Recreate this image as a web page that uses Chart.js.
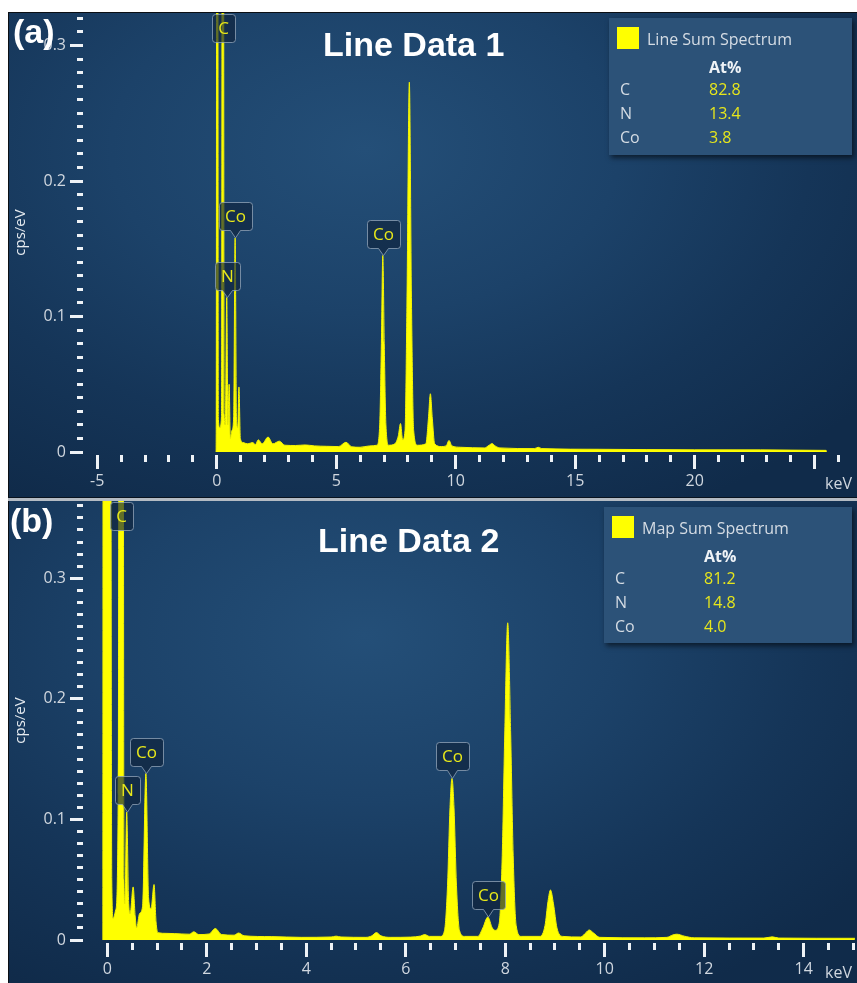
<!DOCTYPE html>
<html>
<head>
<meta charset="utf-8">
<title>EDS sum spectra</title>
<script src="https://cdn.jsdelivr.net/npm/chart.js@4.4.1/dist/chart.umd.min.js"></script>
<style>
  html, body { margin: 0; padding: 0; background: #ffffff; }
  body { position: relative; width: 857px; height: 983px; overflow: hidden; }
  .panel {
    position: absolute; left: 8px; width: 848px;
    border-left: 1px solid #0b0f14;
    background: radial-gradient(ellipse 75% 85% at 42% 28%, #244f78 0%, #1c4269 40%, #153558 70%, #102b4a 100%);
    overflow: hidden;
    font-family: "Open Sans", sans-serif;
  }
  #panelA { top: 12px; height: 485px; border-top: 1px solid #0b0f14; }
  #panelB { top: 501px; height: 482px; }
  .sep-dark { position: absolute; left: 8px; width: 849px; top: 497px; height: 1px; background: #09131f; }
  .sep-light { position: absolute; left: 8px; width: 849px; top: 498px; height: 3px; background: #b4bbc3; }
  canvas { position: absolute; left: 0; top: 0; }
  .tag { position: absolute; color: #ffffff; font: bold 34px "Liberation Sans", Arial, sans-serif; line-height: 34px; white-space: nowrap; }
  .unit { position: absolute; color: #d0d7df; font-size: 16px; line-height: 20px; }
  .legend { position: absolute; background: #2c5278; box-shadow: 2px 3px 5px rgba(0, 0, 0, 0.55); }
  .legend span { position: absolute; font-size: 16px; line-height: 20px; color: #d5dce4; white-space: nowrap; }
  .legend .swatch { width: 22px; height: 22px; background: #ffff00; }
  .legend .head { font-weight: bold; color: #eef2f6; }
  .legend .val { color: #e6e61c; }
</style>
</head>
<body>
<div class="panel" id="panelA">
  <canvas id="chartA" width="848" height="485"></canvas>
  <div class="tag" style="left:4px; top:1px">(a)</div>
  <div class="tag" style="left:314px; top:14px">Line Data 1</div>
  <div class="unit" style="left:816px; top:460px">keV</div>
  <div class="legend" id="legendA" style="left:600px; top:5px; width:243px; height:137px"></div>
</div>
<div class="sep-dark"></div>
<div class="sep-light"></div>
<div class="panel" id="panelB">
  <canvas id="chartB" width="848" height="482"></canvas>
  <div class="tag" style="left:1px; top:2px">(b)</div>
  <div class="tag" style="left:309px; top:22px">Line Data 2</div>
  <div class="unit" style="left:816px; top:461px">keV</div>
  <div class="legend" id="legendB" style="left:595px; top:6px; width:248px; height:136px"></div>
</div>

<script>
// Line sum spectrum (keV, cps/eV)
const energyA = [
  -0.03, -0.02, 0.02, 0.07, 0.13, 0.2, 0.26, 0.31, 0.36, 0.42, 0.47, 0.52, 0.57, 0.64, 0.71, 0.77,
  0.83, 0.88, 0.93, 0.99, 1.1, 1.3, 1.5, 1.62, 1.74, 1.9, 2.15, 2.35, 2.62, 2.85, 3.3, 3.7,
  4.1, 4.6, 5.1, 5.41, 5.65, 6.0, 6.4, 6.7, 6.82, 6.89, 6.95, 7.01, 7.08, 7.2, 7.45, 7.6,
  7.69, 7.78, 7.88, 7.96, 8.06, 8.15, 8.24, 8.4, 8.75, 8.86, 8.94, 9.02, 9.12, 9.4, 9.6, 9.72,
  9.84, 10.2, 11.2, 11.4, 11.52, 11.65, 11.85, 13.3, 13.45, 13.6, 16, 20, 25.5, 25.52
];
const countsA = [
  0, 0.02, 1.2, 0.024, 0.018, 0.026, 1.2, 0.028, 0.02, 0.114, 0.02, 0.05, 0.01, 0.016, 0.026, 0.158,
  0.022, 0.018, 0.048, 0.01, 0.007, 0.006, 0.007, 0.0055, 0.009, 0.006, 0.011, 0.006, 0.008, 0.005, 0.0048, 0.0052,
  0.0045, 0.0042, 0.004, 0.0072, 0.0038, 0.0035, 0.0045, 0.005, 0.02, 0.08, 0.145, 0.08, 0.02, 0.005, 0.006, 0.012,
  0.021, 0.009, 0.016, 0.11, 0.273, 0.11, 0.016, 0.005, 0.006, 0.025, 0.043, 0.025, 0.006, 0.004, 0.0045, 0.0085,
  0.0045, 0.0035, 0.003, 0.005, 0.0062, 0.0045, 0.003, 0.0025, 0.0035, 0.0025, 0.002, 0.0016, 0.0012, 0
];

// Map sum spectrum (keV, cps/eV)
const energyB = [
  -0.09, -0.08, 0.0, 0.06, 0.09, 0.12, 0.17, 0.22, 0.245, 0.28, 0.315, 0.335, 0.355, 0.39, 0.43, 0.46,
  0.52, 0.56, 0.59, 0.65, 0.71, 0.776, 0.83, 0.88, 0.94, 0.98, 1.02, 1.2, 1.5, 1.65, 1.74, 1.84,
  2.05, 2.17, 2.3, 2.55, 2.64, 2.75, 3.3, 3.9, 4.5, 4.6, 4.7, 5.2, 5.32, 5.41, 5.5, 5.7,
  6.1, 6.3, 6.38, 6.48, 6.7, 6.78, 6.84, 6.89, 6.93, 6.97, 7.02, 7.08, 7.18, 7.45, 7.55, 7.65,
  7.74, 7.8, 7.88, 7.94, 7.99, 8.05, 8.11, 8.16, 8.22, 8.32, 8.7, 8.8, 8.86, 8.91, 8.97, 9.04,
  9.15, 9.52, 9.62, 9.69, 9.77, 9.9, 10.8, 11.25, 11.37, 11.45, 11.6, 11.8, 13.2, 13.37, 13.5, 15.03
];
const countsB = [
  0, 0.9, 1.5, 0.9, 0.05, 0.018, 0.025, 0.12, 0.9, 1.4, 0.9, 0.05, 0.03, 0.106, 0.03, 0.022,
  0.044, 0.02, 0.01, 0.022, 0.028, 0.138, 0.035, 0.026, 0.046, 0.015, 0.006, 0.0055, 0.005, 0.0048, 0.0068, 0.0045,
  0.005, 0.0095, 0.0045, 0.004, 0.0058, 0.0035, 0.0028, 0.0022, 0.0025, 0.0032, 0.0025, 0.0022, 0.0035, 0.0062, 0.0035, 0.0022,
  0.0024, 0.0033, 0.0045, 0.003, 0.003, 0.008, 0.045, 0.11, 0.134, 0.11, 0.045, 0.008, 0.003, 0.003, 0.01, 0.019,
  0.01, 0.008, 0.014, 0.07, 0.17, 0.263, 0.17, 0.07, 0.012, 0.003, 0.003, 0.012, 0.032, 0.0415, 0.03, 0.01,
  0.003, 0.0025, 0.006, 0.0083, 0.006, 0.0022, 0.0018, 0.0022, 0.0042, 0.0048, 0.0032, 0.0018, 0.0016, 0.0026, 0.0016, 0.0014
];

// Peak labels: element and line energy (must be one of the energies above)
const markersA = [
  { label: 'C', e: 0.26, top: true },
  { label: 'Co', e: 0.77 },
  { label: 'N', e: 0.42 },
  { label: 'Co', e: 6.95 }
];
const markersB = [
  { label: 'C', e: 0.28, top: true },
  { label: 'Co', e: 0.776 },
  { label: 'N', e: 0.39 },
  { label: 'Co', e: 6.93 },
  { label: 'Co', e: 7.65 }
];

// Quantification (At%)
const elements = ['C', 'N', 'Co'];
const atPercentA = [82.8, 13.4, 3.8];
const atPercentB = [81.2, 14.8, 4.0];

// Axis ticks
const xTicksA = Array.from({ length: 32 }, (_, i) => i - 5);       // -5 .. 26 keV
const xLabelsA = [-5, 0, 5, 10, 15, 20];
const xTicksB = Array.from({ length: 31 }, (_, i) => i / 2);       // 0 .. 15 keV
const xLabelsB = [0, 2, 4, 6, 8, 10, 12, 14];
const yTicksA = Array.from({ length: 33 }, (_, i) => i / 100);     // 0 .. 0.32
const yTicksB = Array.from({ length: 37 }, (_, i) => i / 100);     // 0 .. 0.36

Chart.defaults.font.family = '"Open Sans", sans-serif';

const tickColor = '#eef2f6';
const labelColor = '#d0d7df';

// element callout boxes with a pointer down to the peak
const calloutPlugin = {
  id: 'callouts',
  afterDatasetsDraw(chart, args, opts) {
    const { ctx, chartArea } = chart;
    const xs = chart.scales.x, ys = chart.scales.y;
    const pts = chart.data.datasets[0].data;
    ctx.save();
    ctx.font = '17px "Open Sans", sans-serif';
    ctx.textAlign = 'center';
    ctx.textBaseline = 'middle';
    ctx.lineWidth = 1;
    for (const m of opts.items) {
      const cx = Math.round(xs.getPixelForValue(m.e)) + 0.5;
      const w = Math.round(ctx.measureText(m.label).width) + 12;
      const h = 28, tail = 8;
      let top, bottom, tip = null;
      if (m.top) {
        top = chartArea.top + 1.5;
        bottom = top + h;
      } else {
        const p = pts.find(d => d.x === m.e);
        tip = ys.getPixelForValue(p.y);
        bottom = Math.round(tip - tail) + 0.5;
        top = bottom - h;
      }
      const l = Math.round(cx - w / 2) + 0.5, r = l + w;
      ctx.beginPath();
      ctx.moveTo(l + 3, top);
      ctx.arcTo(r, top, r, bottom, 3);
      ctx.arcTo(r, bottom, l, bottom, 3);
      if (tip !== null) {
        ctx.lineTo(cx + 5, bottom);
        ctx.lineTo(cx, tip);
        ctx.lineTo(cx - 5, bottom);
      }
      ctx.arcTo(l, bottom, l, top, 3);
      ctx.arcTo(l, top, r, top, 3);
      ctx.closePath();
      ctx.fillStyle = 'rgba(16, 36, 60, 0.65)';
      ctx.fill();
      ctx.strokeStyle = 'rgba(150, 168, 188, 0.75)';
      ctx.stroke();
      ctx.fillStyle = '#e8e81a';
      ctx.fillText(m.label, cx, top + h / 2 + 1);
    }
    ctx.restore();
  }
};

function makeChart(id, energy, counts, markers, o) {
  const ctx = document.getElementById(id).getContext('2d');
  const points = energy.map((e, i) => ({ x: e, y: counts[i] }));
  const isMajorX = c => c.tick && Math.abs(c.tick.value % o.xMajor) < 1e-9;
  const isMajorY = c => c.tick && Math.round(c.tick.value * 100) % 10 === 0;

  return new Chart(ctx, {
    type: 'line',
    data: {
      datasets: [{
        data: points,
        borderColor: '#f4f400',
        borderWidth: 1,
        backgroundColor: '#ffff00',
        fill: 'origin',
        pointRadius: 0,
        cubicInterpolationMode: 'monotone'
      }]
    },
    options: {
      responsive: false,
      animation: false,
      devicePixelRatio: 1,
      layout: { padding: { left: 0, right: 2, top: 0, bottom: 0 } },
      plugins: {
        legend: { display: false },
        tooltip: { enabled: false },
        callouts: { items: markers }
      },
      scales: {
        x: {
          type: 'linear',
          min: o.xMin,
          max: o.xMax,
          afterBuildTicks: s => { s.ticks = o.xTicks.map(v => ({ value: v })); },
          afterFit: s => { s.height = o.xAxisHeight; s.paddingLeft = 0; s.paddingRight = 0; },
          border: { display: false },
          grid: {
            drawOnChartArea: false,
            tickLength: 17,
            tickColor: tickColor,
            tickWidth: 3,
            tickBorderDash: c => isMajorX(c) ? [0, 3, 14, 0] : [0, 3, 7, 7]
          },
          ticks: {
            autoSkip: false,
            maxRotation: 0,
            padding: 3,
            color: labelColor,
            font: { size: 16 },
            callback: v => o.xLabels.includes(v) ? String(v) : ''
          }
        },
        y: {
          min: 0,
          max: o.yMax,
          afterBuildTicks: s => { s.ticks = o.yTicks.map(v => ({ value: v })); },
          afterFit: s => { s.width = 77; s.paddingTop = 0; s.paddingBottom = 0; },
          border: { display: false },
          grid: {
            drawOnChartArea: false,
            tickLength: 16,
            tickColor: tickColor,
            tickWidth: 3,
            tickBorderDash: c => isMajorY(c) ? [13, 3] : [0, 7, 6, 3]
          },
          ticks: {
            autoSkip: false,
            padding: 4,
            color: labelColor,
            font: { size: 16 },
            callback: v => Math.round(v * 100) % 10 === 0 ? (v === 0 ? '0' : v.toFixed(1)) : ''
          },
          title: {
            display: true,
            text: 'cps/eV',
            color: '#e6ebf0',
            font: { size: 15 },
            padding: { top: 3, bottom: 0 }
          }
        }
      }
    },
    plugins: [calloutPlugin]
  });
}

function fillLegend(id, title, values) {
  const box = document.getElementById(id);
  const add = (cls, text, left, top) => {
    const s = document.createElement('span');
    if (cls) s.className = cls;
    s.textContent = text;
    s.style.left = left + 'px';
    s.style.top = top + 'px';
    box.appendChild(s);
  };
  add('swatch', '', 8, 9);
  add('', title, 38, 11);
  add('head', 'At%', 100, 39);
  elements.forEach((el, i) => {
    add('', el, 11, 61 + i * 24);
    add('val', values[i].toFixed(1), 100, 61 + i * 24);
  });
}

makeChart('chartA', energyA, countsA, markersA, {
  xMin: -5.469, xMax: 26.707, xTicks: xTicksA, xLabels: xLabelsA, xMajor: 5,
  xAxisHeight: 46, yMax: 0.324, yTicks: yTicksA
});
makeChart('chartB', energyB, countsB, markersB, {
  xMin: -0.428, xMax: 15.032, xTicks: xTicksB, xLabels: xLabelsB, xMajor: 2,
  xAxisHeight: 43, yMax: 0.364, yTicks: yTicksB
});

fillLegend('legendA', 'Line Sum Spectrum', atPercentA);
fillLegend('legendB', 'Map Sum Spectrum', atPercentB);
</script>
</body>
</html>
